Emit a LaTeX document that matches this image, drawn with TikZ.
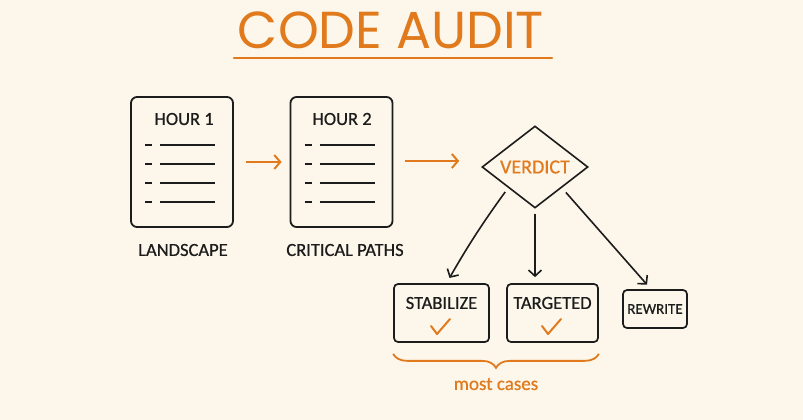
\documentclass[tikz,border=0pt]{standalone}
\usepackage{fontspec}
\setmainfont{Carlito}[FakeBold=0.6]
\newfontfamily\titlefont{Poppins}
\usetikzlibrary{arrows.meta,shapes.geometric,decorations.pathreplacing,calc}
\definecolor{bg}{HTML}{FDF6EA}
\definecolor{org}{HTML}{E07A1C}
\definecolor{ink}{HTML}{1C1C1C}
\begin{document}
\begin{tikzpicture}[x=1pt,y=-1pt,
  doc/.style={draw=ink, line width=1.8pt, rounded corners=6pt, inner sep=0pt, minimum width=102pt, minimum height=130pt},
  box/.style={draw=ink, line width=1.7pt, rounded corners=4pt, inner sep=0pt},
  lbl/.style={text=ink, font=\fontsize{18.5}{20}\selectfont, inner sep=0pt},
  rule/.style={draw=ink, line width=1.6pt},
  flow/.style={draw=org, line width=2pt, -{Straight Barb[length=6pt,width=14pt]}},
  branch/.style={draw=ink, line width=1.6pt, -{Straight Barb[length=6pt,width=13pt]}},
  check/.style={draw=org, line width=2pt, line cap=round, line join=round}]
\fill[bg] (0,0) rectangle (803,420);
\useasboundingbox (0,0) rectangle (803,420);
% title
\node[text=org, font=\titlefont\fontsize{52}{52}\selectfont, inner sep=0pt] (title) at (391,30) {CODE AUDIT};
\draw[org, line width=2.5pt, line cap=round] (234,58) -- (552,58);
% documents
\node[doc] (d1) at (182,162) {};
\node[doc] (d2) at (341.5,162) {};
\node[lbl] (h1) at (184,119) {HOUR 1};
\node[lbl] (h2) at (342,119) {HOUR 2};
\foreach \d in {d1,d2}{
  \foreach \yy in {-17,2,21,40}{
    \draw[rule] ([shift={(-37,\yy)}]\d.center) -- ++(7,0);
    \draw[rule] ([shift={(-22,\yy)}]\d.center) -- ++(55,0);
  }
}
\node[lbl] (l1) at (183,250) {LANDSCAPE};
\node[lbl] (l2) at (345,250) {CRITICAL PATHS};
% verdict
\node[diamond, draw=ink, line width=1.6pt, minimum width=106pt, minimum height=82pt, aspect=1.3, inner sep=0pt, text=org, font=\fontsize{20}{22}\selectfont] (v) at (535,167) {VERDICT};
\draw[flow, shorten <=12pt, shorten >=8pt] (d1.east) -- (d2.west);
\draw[flow, shorten <=12pt, shorten >=22pt] ([shift={(0,-1)}]d2.east) -- ([shift={(0,-1)}]d2.east -| v.west);
% outcome boxes
\node[box, minimum width=95pt, minimum height=58pt] (stab) at (441.5,313) {};
\node[box, minimum width=91pt, minimum height=58pt] (targ) at (552.5,313) {};
\node[box, minimum width=64pt, minimum height=38pt, text=ink, font=\fontsize{15}{17}\selectfont] (rew) at (655,309) {REWRITE};
\node[lbl] (st) at ([shift={(0,-10)}]stab.center) {STABILIZE};
\node[lbl] (tt) at ([shift={(0,-10)}]targ.center) {TARGETED};
\draw[check] ([shift={(-10.5,13)}]stab.center) -- ++(6,8) -- ++(13,-15);
\draw[check] ([shift={(-10.5,13)}]targ.center) -- ++(6,8) -- ++(13,-15);
% branches
\draw[branch, shorten <=5pt, shorten >=6pt] (v.south west) to[bend right=3] ([shift={(5,0)}]stab.north);
\draw[branch, shorten <=5pt, shorten >=6pt] (v.south) -- (v.south |- targ.north);
\draw[branch, shorten <=6pt, shorten >=6pt] (v.south east) -- ([shift={(-4,0)}]rew.north);
% brace
\draw[org, line width=1.8pt, decorate, decoration={brace, mirror, amplitude=14pt, aspect=0.5}] ([shift={(0,11)}]stab.south west) -- ([shift={(0,11)}]targ.south east);
\node[text=org, font=\fontsize{19}{21}\selectfont, inner sep=0pt] (mc) at (496,384) {most cases};
\end{tikzpicture}
\end{document}
